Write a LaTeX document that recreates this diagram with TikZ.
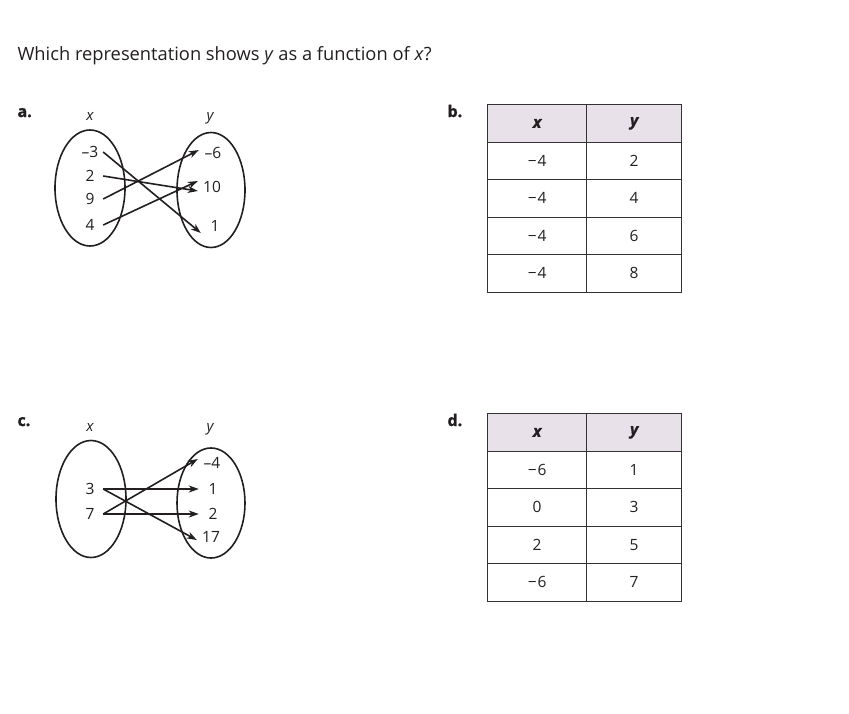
\documentclass[tikz,border=0pt]{standalone}
\usepackage{fontspec}
\setmainfont{Open Sans}[BoldFont={Open Sans Bold},BoldFeatures={FakeBold=1.5},ItalicFont={Open Sans Italic},BoldItalicFont={Open Sans Bold Italic},BoldItalicFeatures={FakeBold=1}]
\usetikzlibrary{arrows.meta,shapes.geometric}
\definecolor{hdr}{RGB}{232,225,234}
\definecolor{tline}{RGB}{50,50,50}
\definecolor{ink}{RGB}{35,31,32}
\begin{document}
\begin{tikzpicture}[x=1pt,y=-1pt,
  every node/.style={font=\fontsize{15.5}{19}\selectfont, text=ink},
  lval/.style={inner sep=0pt, minimum width=26pt},
  rval/.style={inner sep=0pt, minimum width=28pt},
  oval/.style={draw=ink, line width=1.6pt},
  map/.style={draw=ink, line width=1.6pt, -{Stealth[length=10pt,width=7pt,inset=3pt]}},
  lab/.style={font=\bfseries\fontsize{16}{19}\selectfont, anchor=base west},
  axl/.style={font=\itshape\fontsize{15}{18}\selectfont, anchor=base},
  cell/.style={draw=tline, line width=1.3pt, minimum height=37.5pt, inner sep=0pt, anchor=north west},
  cx/.style={cell, minimum width=99pt},
  cy/.style={cell, minimum width=95pt},
  hx/.style={cx, fill=hdr, font=\bfseries\itshape\fontsize{16}{19}\selectfont},
  hy/.style={cy, fill=hdr, font=\bfseries\itshape\fontsize{16}{19}\selectfont}
]
\useasboundingbox[fill=white] (0,0) rectangle (849,713);

\node[anchor=base west, font=\fontsize{18.3}{22}\selectfont] (title) at (14,60) {Which representation shows \textit{y} as a function of \textit{x}?};

% ---------- a ----------
\node[lab] (la) at (14,117) {a.};
\node[axl] (ax) at (90,120) {x};
\node[axl] (ay) at (210,120) {y};
\node[oval, ellipse, minimum width=70pt, minimum height=116pt] (aL) at (90,188) {};
\node[oval, ellipse, minimum width=68pt, minimum height=115pt] (aR) at (211,190) {};
\node[lval] (am3) at (90,152) {–3};
\node[lval] (a2) at (90,176) {2};
\node[lval] (a9) at (90,199) {9};
\node[lval] (a4) at (90,225) {4};
\node[rval] (am6) at (213,153) {–6};
\node[rval] (a10) at (212,187) {10};
\node[rval] (a1) at (215,226) {1};
\draw[map] (am3.east) -- ([yshift=-7pt]a1.west);
\draw[map] (a2.east) -- ([yshift=-4pt]a10.west);
\draw[map] (a9.east) -- ([yshift=3pt]am6.west);
\draw[map] (a4.east) -- ([yshift=6pt]a10.west);

% ---------- c ----------
\node[lab] (lc) at (14,426) {c.};
\node[axl] (cxl) at (90,431) {x};
\node[axl] (cyl) at (210,431) {y};
\node[oval, ellipse, minimum width=70pt, minimum height=117pt] (cL) at (91,499) {};
\node[oval, ellipse, minimum width=68pt, minimum height=110pt] (cR) at (211,503) {};
\node[lval] (c3) at (90,489) {3};
\node[lval] (c7) at (90,514) {7};
\node[rval] (cm4) at (212,463) {–4};
\node[rval] (c1) at (213,489) {1};
\node[rval] (c2) at (213,514) {2};
\node[rval] (c17) at (211,537) {17};
\draw[map] (c3.east) -- (c1.west);
\draw[map] (c3.east) -- ([yshift=-3pt]c17.west);
\draw[map] (c7.east) -- ([yshift=4pt]cm4.west);
\draw[map] (c7.east) -- (c2.west);

% ---------- b ----------
\node[lab] (lb) at (444,117) {b.};
\node[hx] (bh1) at (487,104) {x};
\node[hy] (bh2) at (586,104) {y};
\node[cx] (b11) at (487,141.5) {−\kern1pt 4};
\node[cy] (b12) at (586,141.5) {2};
\node[cx] (b21) at (487,179) {−\kern1pt 4};
\node[cy] (b22) at (586,179) {4};
\node[cx] (b31) at (487,216.5) {−\kern1pt 4};
\node[cy] (b32) at (586,216.5) {6};
\node[cx] (b41) at (487,254) {−\kern1pt 4};
\node[cy] (b42) at (586,254) {8};

% ---------- d ----------
\node[lab] (ld) at (444,426) {d.};
\node[hx] (dh1) at (487,413) {x};
\node[hy] (dh2) at (586,413) {y};
\node[cx] (d11) at (487,450.5) {−\kern1pt 6};
\node[cy] (d12) at (586,450.5) {1};
\node[cx] (d21) at (487,488) {0};
\node[cy] (d22) at (586,488) {3};
\node[cx] (d31) at (487,525.5) {2};
\node[cy] (d32) at (586,525.5) {5};
\node[cx] (d41) at (487,563) {−\kern1pt 6};
\node[cy] (d42) at (586,563) {7};
\end{tikzpicture}
\end{document}
